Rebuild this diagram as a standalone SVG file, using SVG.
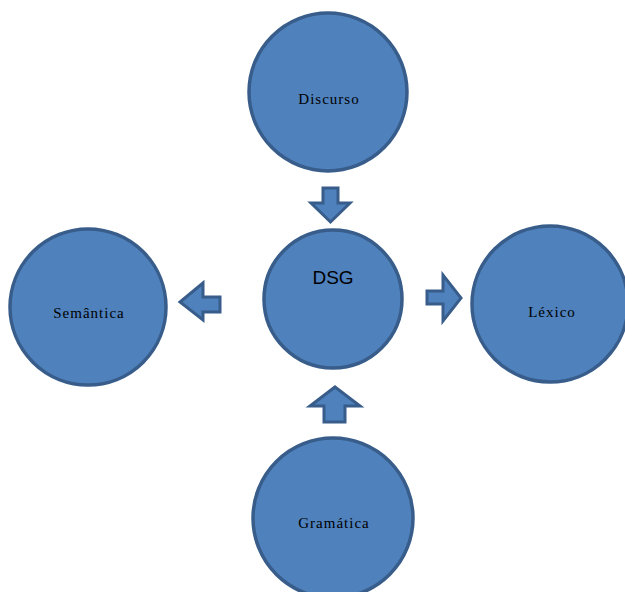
<svg xmlns="http://www.w3.org/2000/svg" width="625" height="592" viewBox="0 0 625 592">
<style>
.c{fill:#4f81bd;stroke:#385d8a;stroke-width:3.5}
.a{fill:#4f81bd;stroke:#385d8a;stroke-width:3;stroke-linejoin:miter}
.t{font-family:"Liberation Serif",serif;font-size:15px;letter-spacing:1px;fill:#000;text-anchor:middle}
.d{font-family:"Liberation Sans",sans-serif;font-size:19px;fill:#000;text-anchor:middle}
</style>
<rect width="625" height="592" fill="#fff"/>
<g id="connectors">
<polygon class="a" points="323,188 338,188 338,203 350,203 330.5,222 311,203 323,203"/>
<polygon class="a" points="220,297 220,312 203,312 203,320 180,302 203,283 203,297"/>
<polygon class="a" points="427,291 443,291 443,275 461,298 443,321 443,304 427,304"/>
<polygon class="a" points="335,387 360,406 345,406 345,422 324,422 324,406 310,406"/>
</g>
<g id="discurso"><circle class="c" cx="328" cy="92" r="79"/><text class="t" x="329" y="104">Discurso</text></g>
<g id="dsg"><circle class="c" cx="333" cy="299" r="69"/><text class="d" x="333" y="284">DSG</text></g>
<g id="semantica"><circle class="c" cx="88" cy="307" r="78"/><text class="t" x="89" y="318">Semântica</text></g>
<g id="lexico"><circle class="c" cx="550" cy="304" r="78"/><text class="t" x="552" y="317">Léxico</text></g>
<g id="gramatica"><circle class="c" cx="333" cy="518" r="80"/><text class="t" x="334" y="528">Gramática</text></g>
</svg>
